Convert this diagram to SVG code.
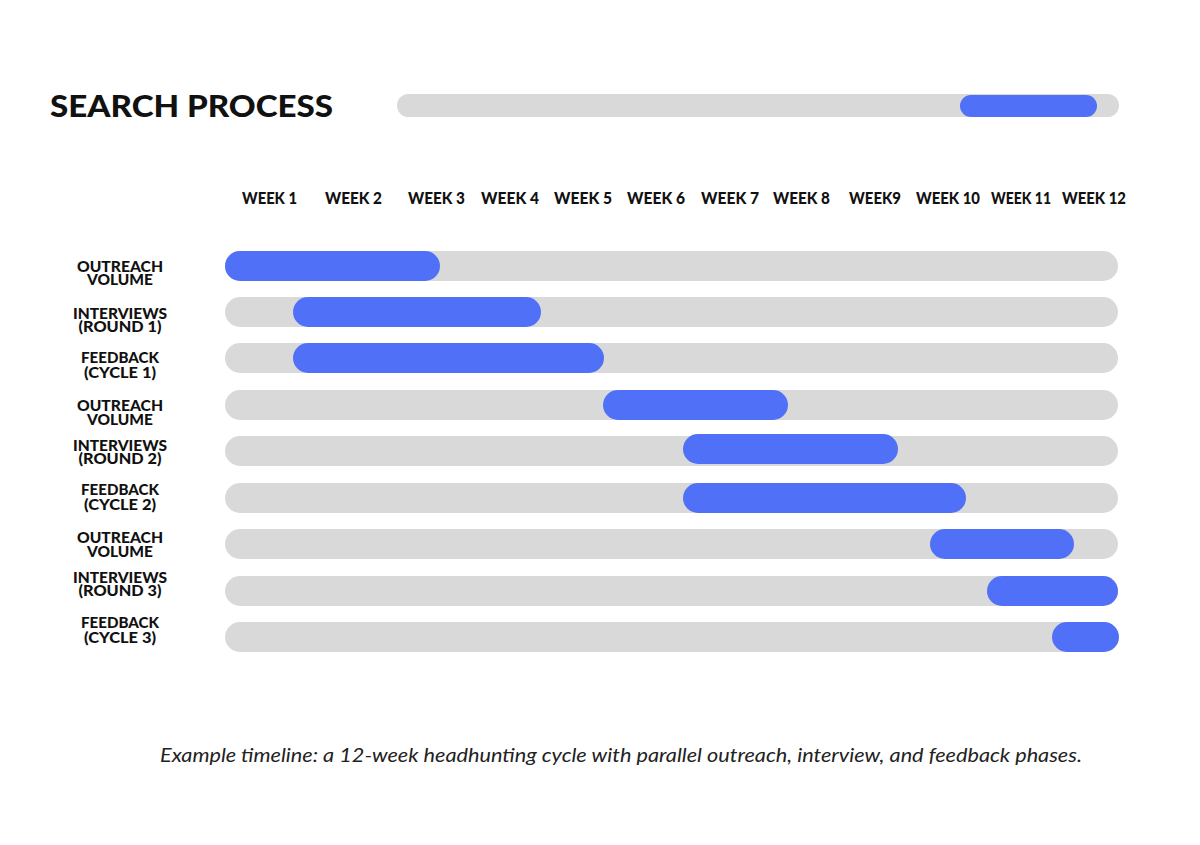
<svg xmlns="http://www.w3.org/2000/svg" width="1200" height="845" viewBox="0 0 1200 845">
<style>
.track{fill:#d9d9d9}
.bar{fill:#5070f8}
.title{font-family:Lato,"DejaVu Sans",sans-serif;font-weight:900;font-size:31px;fill:#111}
.wk{font-family:Lato,"DejaVu Sans",sans-serif;font-weight:900;font-size:16px;fill:#111}
.lbl{font-family:Lato,"DejaVu Sans",sans-serif;font-weight:900;font-size:14.5px;fill:#111;text-anchor:middle}
.cap{font-family:Lato,"Liberation Sans",sans-serif;font-style:italic;font-size:19px;fill:#222}
</style>
<rect width="1200" height="845" fill="#fff"/>
<g id="header">
<text class="title" x="50" y="117" textLength="283" lengthAdjust="spacingAndGlyphs">SEARCH PROCESS</text>
<rect class="track" x="397" y="94" width="722" height="23" rx="11.5"/>
<rect class="bar" x="960" y="95" width="137" height="22" rx="11"/>
</g>
<g id="weeks">
<text class="wk" x="242" y="204" textLength="55" lengthAdjust="spacingAndGlyphs">WEEK 1</text>
<text class="wk" x="325" y="204" textLength="57" lengthAdjust="spacingAndGlyphs">WEEK 2</text>
<text class="wk" x="408" y="204" textLength="57" lengthAdjust="spacingAndGlyphs">WEEK 3</text>
<text class="wk" x="481" y="204" textLength="58" lengthAdjust="spacingAndGlyphs">WEEK 4</text>
<text class="wk" x="554" y="204" textLength="58" lengthAdjust="spacingAndGlyphs">WEEK 5</text>
<text class="wk" x="627" y="204" textLength="58" lengthAdjust="spacingAndGlyphs">WEEK 6</text>
<text class="wk" x="701" y="204" textLength="58" lengthAdjust="spacingAndGlyphs">WEEK 7</text>
<text class="wk" x="773" y="204" textLength="57" lengthAdjust="spacingAndGlyphs">WEEK 8</text>
<text class="wk" x="849" y="204" textLength="52" lengthAdjust="spacingAndGlyphs">WEEK9</text>
<text class="wk" x="916" y="204" textLength="64" lengthAdjust="spacingAndGlyphs">WEEK 10</text>
<text class="wk" x="991" y="204" textLength="60" lengthAdjust="spacingAndGlyphs">WEEK 11</text>
<text class="wk" x="1062" y="204" textLength="64" lengthAdjust="spacingAndGlyphs">WEEK 12</text>
</g>
<g id="row1">
<text class="lbl" x="120" y="272" textLength="86" lengthAdjust="spacingAndGlyphs">OUTREACH</text><text class="lbl" x="120" y="285" textLength="66" lengthAdjust="spacingAndGlyphs">VOLUME</text>
<rect class="track" x="225" y="251" width="893" height="30" rx="15"/>
<rect class="bar" x="225" y="251" width="215" height="30" rx="15"/>
</g>
<g id="row2">
<text class="lbl" x="120" y="319" textLength="94" lengthAdjust="spacingAndGlyphs">INTERVIEWS</text><text class="lbl" x="120" y="332" textLength="83" lengthAdjust="spacingAndGlyphs">(ROUND 1)</text>
<rect class="track" x="225" y="297" width="893" height="30" rx="15"/>
<rect class="bar" x="293" y="297" width="248" height="30" rx="15"/>
</g>
<g id="row3">
<text class="lbl" x="120" y="363" textLength="78" lengthAdjust="spacingAndGlyphs">FEEDBACK</text><text class="lbl" x="120" y="378" textLength="72" lengthAdjust="spacingAndGlyphs">(CYCLE 1)</text>
<rect class="track" x="225" y="343" width="893" height="30" rx="15"/>
<rect class="bar" x="293" y="343" width="311" height="30" rx="15"/>
</g>
<g id="row4">
<text class="lbl" x="120" y="411" textLength="86" lengthAdjust="spacingAndGlyphs">OUTREACH</text><text class="lbl" x="120" y="425" textLength="66" lengthAdjust="spacingAndGlyphs">VOLUME</text>
<rect class="track" x="225" y="390" width="893" height="30" rx="15"/>
<rect class="bar" x="603" y="390" width="185" height="30" rx="15"/>
</g>
<g id="row5">
<text class="lbl" x="120" y="451" textLength="94" lengthAdjust="spacingAndGlyphs">INTERVIEWS</text><text class="lbl" x="120" y="464" textLength="83" lengthAdjust="spacingAndGlyphs">(ROUND 2)</text>
<rect class="track" x="225" y="436" width="893" height="30" rx="15"/>
<rect class="bar" x="683" y="434" width="215" height="30" rx="15"/>
</g>
<g id="row6">
<text class="lbl" x="120" y="495" textLength="78" lengthAdjust="spacingAndGlyphs">FEEDBACK</text><text class="lbl" x="120" y="510" textLength="72" lengthAdjust="spacingAndGlyphs">(CYCLE 2)</text>
<rect class="track" x="225" y="483" width="893" height="30" rx="15"/>
<rect class="bar" x="683" y="483" width="283" height="30" rx="15"/>
</g>
<g id="row7">
<text class="lbl" x="120" y="543" textLength="86" lengthAdjust="spacingAndGlyphs">OUTREACH</text><text class="lbl" x="120" y="557" textLength="66" lengthAdjust="spacingAndGlyphs">VOLUME</text>
<rect class="track" x="225" y="529" width="893" height="30" rx="15"/>
<rect class="bar" x="930" y="529" width="144" height="30" rx="15"/>
</g>
<g id="row8">
<text class="lbl" x="120" y="583" textLength="94" lengthAdjust="spacingAndGlyphs">INTERVIEWS</text><text class="lbl" x="120" y="596" textLength="83" lengthAdjust="spacingAndGlyphs">(ROUND 3)</text>
<rect class="track" x="225" y="576" width="893" height="30" rx="15"/>
<rect class="bar" x="987" y="576" width="131" height="30" rx="15"/>
</g>
<g id="row9">
<text class="lbl" x="120" y="628" textLength="78" lengthAdjust="spacingAndGlyphs">FEEDBACK</text><text class="lbl" x="120" y="643" textLength="72" lengthAdjust="spacingAndGlyphs">(CYCLE 3)</text>
<rect class="track" x="225" y="622" width="893" height="30" rx="15"/>
<rect class="bar" x="1052" y="622" width="67" height="30" rx="15"/>
</g>
<g id="connectors"/>
<text class="cap" x="160" y="762" textLength="922" lengthAdjust="spacingAndGlyphs">Example timeline: a 12-week headhunting cycle with parallel outreach, interview, and feedback phases.</text>
</svg>
